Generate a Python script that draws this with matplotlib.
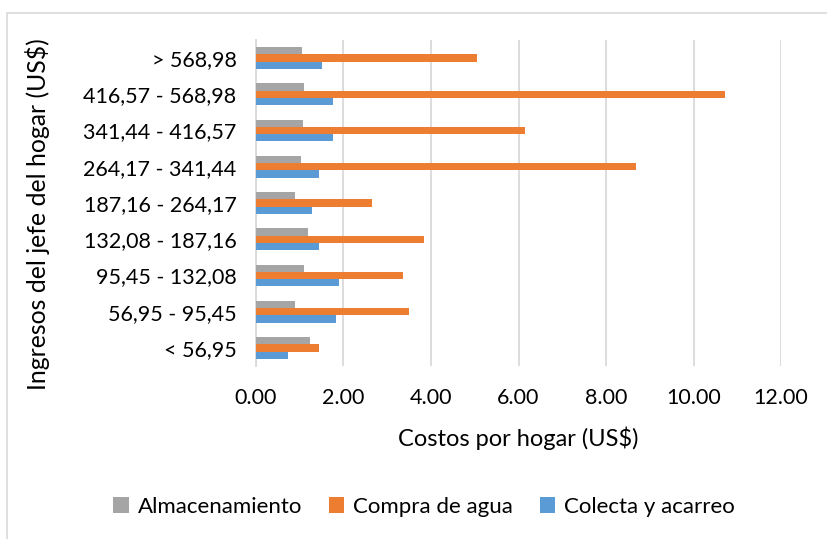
import matplotlib.pyplot as plt
from matplotlib import patches
import numpy as np

plt.rcParams['font.family'] = ['Lato', 'DejaVu Sans']

# categories from bottom to top
categorias = ['< 56,95', '56,95 - 95,45', '95,45 - 132,08', '132,08 - 187,16',
              '187,16 - 264,17', '264,17 - 341,44', '341,44 - 416,57',
              '416,57 - 568,98', '> 568,98']
almacenamiento = [1.24, 0.89, 1.09, 1.19, 0.89, 1.02, 1.08, 1.10, 1.06]
compra_agua = [1.45, 3.50, 3.36, 3.84, 2.65, 8.69, 6.14, 10.73, 5.05]
colecta_acarreo = [0.73, 1.83, 1.90, 1.44, 1.29, 1.44, 1.75, 1.75, 1.51]
xticks = [0, 2, 4, 6, 8, 10, 12]

W, H = 828, 539
fig = plt.figure(figsize=(W / 100, H / 100), dpi=100)
ax = fig.add_axes([256 / W, 1 - 366 / H, (781 - 256) / W, (366 - 40) / H])

y = np.arange(len(categorias))
h = 0.2
ax.barh(y + h, almacenamiento, height=h, color='#A5A5A5', label='Almacenamiento', zorder=3)
ax.barh(y, compra_agua, height=h, color='#ED7D31', label='Compra de agua', zorder=3)
ax.barh(y - h, colecta_acarreo, height=h, color='#5B9BD5', label='Colecta y acarreo', zorder=3)

ax.set_xlim(0, 12)
ax.set_ylim(-0.5, len(categorias) - 0.5)
ax.set_xticks(xticks)
ax.set_xticklabels(['%.2f' % v for v in xticks])
ax.set_yticks(y)
ax.set_yticklabels(categorias)
ax.tick_params(axis='both', length=0, labelsize=15.5, colors='black')
ax.tick_params(axis='x', pad=16)
ax.tick_params(axis='y', pad=14)
ax.grid(axis='x', color='#D9D9D9', linewidth=1.3, zorder=0)
for s in ['top', 'right', 'bottom']:
    ax.spines[s].set_visible(False)
ax.spines['left'].set_color('#D9D9D9')
ax.spines['left'].set_linewidth(1.3)

ax.set_xlabel('Costos por hogar (US\\$)', fontsize=17, labelpad=13)
fig.text(38 / W, 1 - 214 / H, 'Ingresos del jefe del hogar (US\\$)', rotation=90,
         ha='center', va='center', fontsize=17.8)

fig.legend(loc='center', bbox_to_anchor=(0.512, 1 - 507 / H), ncol=3, frameon=False,
           fontsize=16, handlelength=0.7, handleheight=0.7, handletextpad=0.4,
           columnspacing=1.2)

border = patches.Rectangle((7 / W, -0.05), 1.1, 1 - 13 / H + 0.05, transform=fig.transFigure,
                           fill=False, edgecolor='#D9D9D9', linewidth=1.2)
fig.patches.append(border)

fig.savefig('out.png', dpi=100)
